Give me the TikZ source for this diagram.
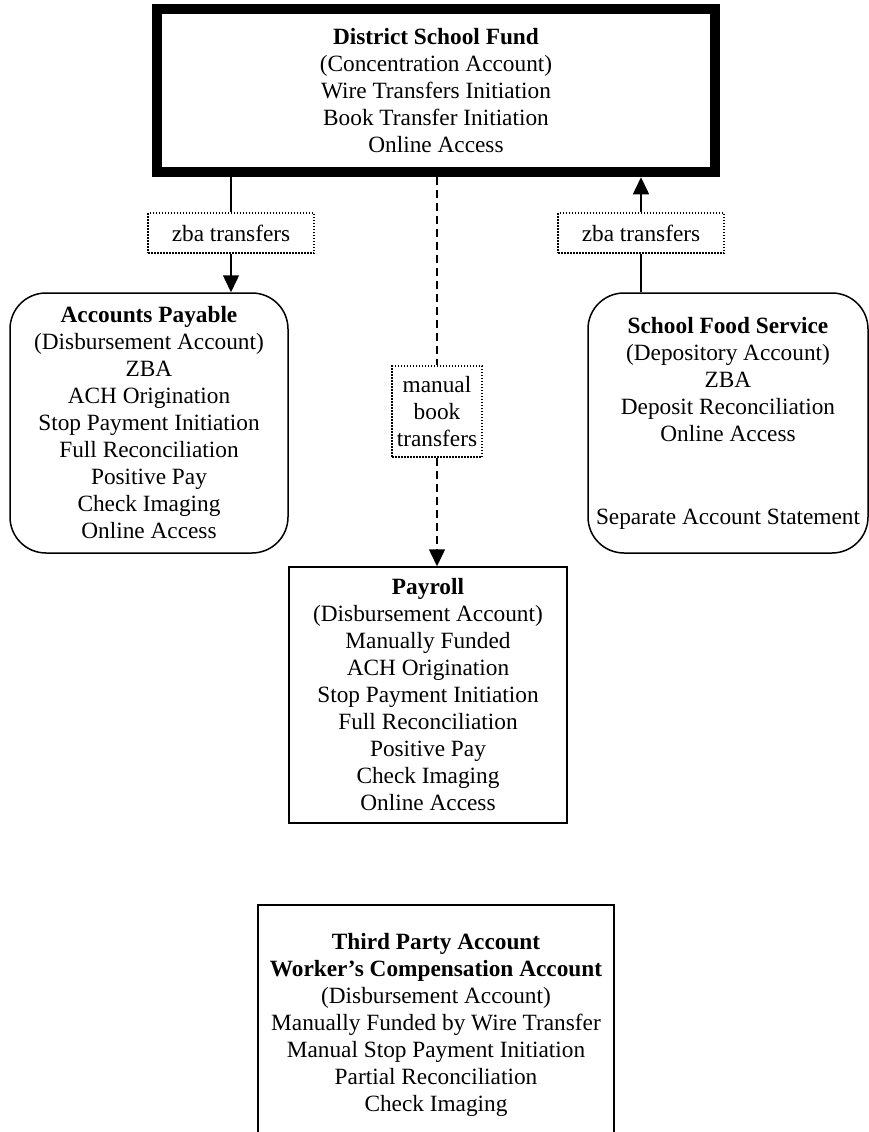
\documentclass[tikz,border=0pt]{standalone}
\usepackage{fontspec}
\setmainfont{Liberation Serif}
\usetikzlibrary{arrows.meta}
\begin{document}
\begin{tikzpicture}[x=1pt,y=-1pt]
\tikzstyle{acct} = [draw, line width=1.5pt, align=center, inner sep=0pt, font=\fontsize{23.3}{27}\selectfont]
\tikzstyle{fundbox} = [acct, line width=10.5pt, minimum width=558pt, minimum height=163pt]
\tikzstyle{roundbox} = [acct, rounded corners=36pt, minimum height=260pt]
\tikzstyle{xfer} = [draw, line width=1.5pt, dash pattern=on 1.5pt off 1.5pt, align=center, inner sep=0pt, font=\fontsize{23.3}{27}\selectfont]
\tikzstyle{link} = [line width=1.5pt]
\tikzstyle{manualline} = [link, dash pattern=on 8pt off 5pt]
\tikzstyle{tip} = [-{Triangle[length=17pt,width=16pt]}]
\useasboundingbox (0,0) rectangle (869,1132);

\node[fundbox] (fund) at (436,90.5) {\textbf{District School Fund}\\(Concentration Account)\\Wire Transfers Initiation\\Book Transfer Initiation\\Online Access};
\node[xfer, minimum width=166pt, minimum height=40pt] (zbaleft) at (231,233) {zba transfers};
\node[xfer, minimum width=166pt, minimum height=40pt] (zbaright) at (641,233) {zba transfers};
\node[xfer, minimum width=90pt, minimum height=91pt] (manual) at (437,411.5) {manual\\book\\transfers};
\node[roundbox, minimum width=278pt] (payable) at (149,423) {\textbf{Accounts Payable}\\(Disbursement Account)\\ZBA\\ACH Origination\\Stop Payment Initiation\\Full Reconciliation\\Positive Pay\\Check Imaging\\Online Access};
\node[roundbox, minimum width=280pt] (food) at (728,423) {\textbf{School Food Service}\\(Depository Account)\\ZBA\\Deposit Reconciliation\\Online Access\\[56pt]Separate Account Statement};
\node[acct, minimum width=278pt, minimum height=256pt] (payroll) at (428,695) {\textbf{Payroll}\\(Disbursement Account)\\Manually Funded\\ACH Origination\\Stop Payment Initiation\\Full Reconciliation\\Positive Pay\\Check Imaging\\Online Access};
\node[acct, anchor=north, minimum width=356pt, minimum height=240pt] (thirdparty) at (436,904) {\textbf{Third Party Account}\\\textbf{Worker's Compensation Account}\\(Disbursement Account)\\Manually Funded by Wire Transfer\\Manual Stop Payment Initiation\\Partial Reconciliation\\Check Imaging};

\draw[link] (fund.south -| zbaleft) -- (zbaleft);
\draw[link, tip] (zbaleft) -- (zbaleft |- payable.north);
\draw[link] (food.north -| zbaright) -- (zbaright);
\draw[link, tip] (zbaright) -- (zbaright |- fund.south);
\draw[manualline] (fund.south -| manual) -- (manual);
\draw[manualline, tip] (manual) -- (manual |- payroll.north);
\end{tikzpicture}
\end{document}
